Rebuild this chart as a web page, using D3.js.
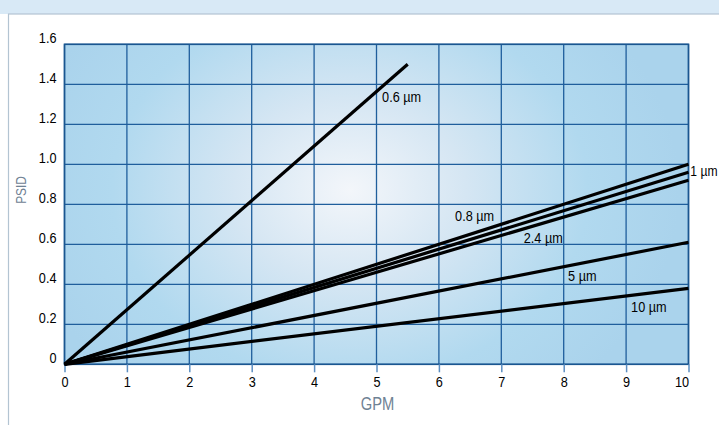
<!DOCTYPE html>
<html>
<head>
<meta charset="utf-8">
<script src="https://cdn.jsdelivr.net/npm/d3@7"></script>
<style>
  html, body { margin: 0; padding: 0; background: #fff; }
  svg { display: block; }
  text { font-family: "Liberation Sans Narrow", "Liberation Sans", sans-serif; }
</style>
</head>
<body>
<svg id="chart" width="719" height="425"></svg>
<script>
// ---- data ----
const xTicks = [0, 1, 2, 3, 4, 5, 6, 7, 8, 9, 10];
const yTicks = [0, 0.2, 0.4, 0.6, 0.8, 1.0, 1.2, 1.4, 1.6];
const yTickLabels = ["0", "0.2", "0.4", "0.6", "0.8", "1.0", "1.2", "1.4", "1.6"];
const seriesNames = ["0.6 µm", "1 µm", "0.8 µm", "2.4 µm", "5 µm", "10 µm"];
const gpm06 = [0, 5.5];
const psid06 = [0, 1.5];
const gpm1 = [0, 10];
const psid1 = [0, 1.0];
const gpm08 = [0, 10];
const psid08 = [0, 0.96];
const gpm24 = [0, 10];
const psid24 = [0, 0.92];
const gpm5 = [0, 10];
const psid5 = [0, 0.61];
const gpm10 = [0, 10];
const psid10 = [0, 0.38];
const xTitle = "GPM";
const yTitle = "PSID";

const seriesX = [gpm06, gpm1, gpm08, gpm24, gpm5, gpm10];
const seriesY = [psid06, psid1, psid08, psid24, psid5, psid10];
const series = seriesNames.map((n, i) => ({
  name: n,
  pts: seriesX[i].map((x, j) => ({ x: x, y: seriesY[i][j] }))
}));

// ---- layout ----
const svg = d3.select("#chart");
const W = 719, H = 425;
const plot = { left: 64.5, right: 688.5, top: 44.3, bottom: 364.3 };

const x = d3.scaleLinear().domain([0, 10]).range([plot.left, plot.right]);
const y = d3.scaleLinear().domain([0, 1.6]).range([plot.bottom, plot.top]);

// detect whether a narrow font is really available; otherwise condense horizontally
function measure(fam) {
  const t = svg.append("text").attr("font-size", 100).attr("font-family", fam).text("0123456789 GPM");
  const w = t.node().getComputedTextLength();
  t.remove();
  return w;
}
const wNarrow = measure("'Liberation Sans Narrow'");
const wReg = measure("'Liberation Sans'");
const SX = (Math.abs(wNarrow - wReg) < 1) ? 0.82 : 1;

// page frame
svg.append("rect").attr("x", 0).attr("y", 0).attr("width", W).attr("height", 14).attr("fill", "#d8e9f6");
svg.append("rect").attr("x", 8.5).attr("y", 14).attr("width", W + 10).attr("height", H + 10)
  .attr("fill", "#ffffff").attr("stroke", "#b3c4d2").attr("stroke-width", 1.2);

// gradient background
const defs = svg.append("defs");
const grad = defs.append("radialGradient").attr("id", "bg")
  .attr("gradientUnits", "userSpaceOnUse")
  .attr("cx", 350).attr("cy", 190).attr("r", 330)
  .attr("gradientTransform", "translate(350,190) scale(1,0.8) translate(-350,-190)");
grad.append("stop").attr("offset", "0%").attr("stop-color", "#f3f6fa");
grad.append("stop").attr("offset", "35%").attr("stop-color", "#d5e6f3");
grad.append("stop").attr("offset", "72%").attr("stop-color", "#b1d9ef");
grad.append("stop").attr("offset", "100%").attr("stop-color", "#aad3ec");

svg.append("rect")
  .attr("x", plot.left).attr("y", plot.top)
  .attr("width", plot.right - plot.left).attr("height", plot.bottom - plot.top)
  .attr("fill", "url(#bg)");

// grid
const gridColor = "#1f5e9c";
svg.append("g").selectAll("line").data(xTicks).join("line")
  .attr("x1", d => x(d)).attr("x2", d => x(d))
  .attr("y1", plot.top).attr("y2", plot.bottom)
  .attr("stroke", gridColor).attr("stroke-width", 1.3);
svg.append("g").selectAll("line").data(yTicks).join("line")
  .attr("x1", plot.left).attr("x2", plot.right)
  .attr("y1", d => y(d)).attr("y2", d => y(d))
  .attr("stroke", gridColor).attr("stroke-width", 1.3);

svg.append("rect")
  .attr("x", plot.left).attr("y", plot.top)
  .attr("width", plot.right - plot.left).attr("height", plot.bottom - plot.top)
  .attr("fill", "none").attr("stroke", "#1a5690").attr("stroke-width", 1.6);

// x axis
const xAxis = d3.axisBottom(x).tickValues(xTicks).tickSize(8).tickPadding(4)
  .tickFormat(d => String(d));
const gx = svg.append("g").attr("transform", `translate(0,${plot.bottom})`).call(xAxis);
gx.select(".domain").remove();
gx.selectAll(".tick line").attr("stroke", "#5d8fc2").attr("stroke-width", 1.5);
gx.selectAll(".tick text").attr("fill", "#000").attr("font-size", 15.5)
  .attr("text-anchor", (d, i) => i === xTicks.length - 1 ? "end" : "middle")
  .attr("transform", `scale(${SX},1)`);

// y axis
const yAxis = d3.axisLeft(y).tickValues(yTicks).tickSize(0).tickPadding(0)
  .tickFormat((d, i) => yTickLabels[i]);
const gy = svg.append("g").attr("transform", `translate(${plot.left - 8},0)`).call(yAxis);
gy.select(".domain").remove();
gy.selectAll(".tick text").attr("fill", "#000").attr("font-size", 15.5)
  .attr("x", 0).attr("dy", "-0.12em")
  .attr("transform", `scale(${SX},1)`);

// axis titles
svg.append("g").attr("transform", `translate(${(plot.left + plot.right) / 2 + 1},410)`)
  .append("text").attr("transform", `scale(${SX},1)`)
  .attr("text-anchor", "middle").attr("font-size", 18).attr("fill", "#6f8294")
  .text(xTitle);
svg.append("g").attr("transform", "translate(26,190) rotate(-90)")
  .append("text").attr("transform", `scale(${SX},1)`)
  .attr("text-anchor", "middle").attr("font-size", 14.5).attr("fill", "#6f8294")
  .text(yTitle);

// series lines
const line = d3.line().x(d => x(d.x)).y(d => y(d.y));
svg.append("g").selectAll("path").data(series).join("path")
  .attr("d", d => line(d.pts))
  .attr("fill", "none").attr("stroke", "#000").attr("stroke-width", 3.2)
  .attr("stroke-linecap", "butt");

// series labels (anchor positions in data units)
const labelAnchors = [
  { gx: 5.09, gy: 1.31, fs: 15.5 },
  { gx: 10.03, gy: 0.94, fs: 14.8 },
  { gx: 6.26, gy: 0.717, fs: 15.5 },
  { gx: 7.36, gy: 0.607, fs: 15.5 },
  { gx: 8.07, gy: 0.417, fs: 15.5 },
  { gx: 9.08, gy: 0.262, fs: 15.5 }
];
svg.append("g").selectAll("g").data(series).join("g")
  .attr("transform", (d, i) => `translate(${x(labelAnchors[i].gx)},${y(labelAnchors[i].gy)})`)
  .append("text")
  .attr("transform", `scale(${SX},1)`)
  .attr("font-size", (d, i) => labelAnchors[i].fs).attr("fill", "#000")
  .text(d => d.name);
</script>
</body>
</html>
